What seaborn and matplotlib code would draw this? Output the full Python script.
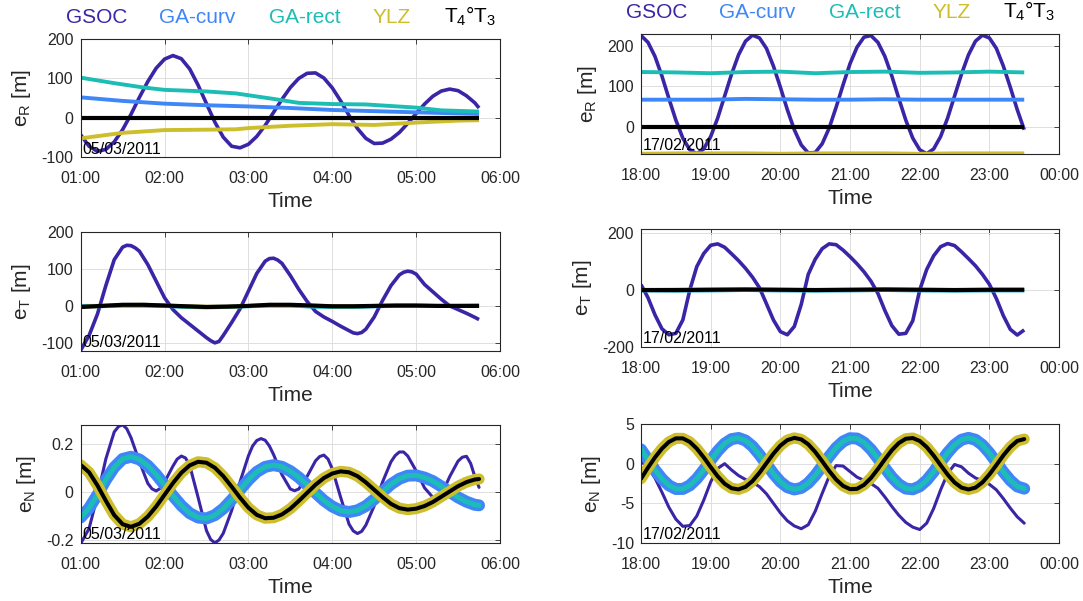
import pandas as pd
import matplotlib
matplotlib.use("Agg")
import matplotlib.pyplot as plt
import matplotlib.dates as mdates
from matplotlib.ticker import FuncFormatter
import seaborn as sns

# ------------------------------------------------------------------ series
LABELS = ["GSOC", "GA-curv", "GA-rect", "YLZ", "T$_4$°T$_3$"]
COLORS = ["#3b25a6", "#3f86f8", "#1cbdb5", "#cdbe2b", "#000000"]

DAY_LEFT = "2011-03-05"
DAY_RIGHT = "2011-02-17"
DATE_LEFT = "05/03/2011"
DATE_RIGHT = "17/02/2011"

# sample times, hours after midnight
HOURS_L = [1.0, 1.1, 1.2, 1.3, 1.4, 1.5, 1.6, 1.7, 1.8, 1.9,
           2.0, 2.1, 2.2, 2.3, 2.4, 2.5, 2.6, 2.7, 2.8, 2.9,
           3.0, 3.1, 3.2, 3.3, 3.4, 3.5, 3.6, 3.7, 3.8, 3.9,
           4.0, 4.1, 4.2, 4.3, 4.4, 4.5, 4.6, 4.7, 4.8, 4.9,
           5.0, 5.1, 5.2, 5.3, 5.4, 5.5, 5.6, 5.7, 5.75]
HOURS_R = [18.0, 18.1, 18.2, 18.3, 18.4, 18.5, 18.6, 18.7, 18.8, 18.9,
           19.0, 19.1, 19.2, 19.3, 19.4, 19.5, 19.6, 19.7, 19.8, 19.9,
           20.0, 20.1, 20.2, 20.3, 20.4, 20.5, 20.6, 20.7, 20.8, 20.9,
           21.0, 21.1, 21.2, 21.3, 21.4, 21.5, 21.6, 21.7, 21.8, 21.9,
           22.0, 22.1, 22.2, 22.3, 22.4, 22.5, 22.6, 22.7, 22.8, 22.9,
           23.0, 23.1, 23.2, 23.3, 23.4, 23.5]
QUARTER_L = [1.0, 1.25, 1.5, 1.75, 2.0, 2.25, 2.5, 2.75, 3.0, 3.25,
             3.5, 3.75, 4.0, 4.25, 4.5, 4.75, 5.0, 5.25, 5.5, 5.75]
HALF_R = [18.0, 18.5, 19.0, 19.5, 20.0, 20.5, 21.0, 21.5, 22.0, 22.5, 23.0, 23.5]
ENDS_L = [1.0, 5.75]

# ---- radial error e_R [m], 05/03/2011
GSOC_R_L = [-43, -72, -85, -80, -61, -30, 9, 52, 92, 126,
            149, 158, 150, 124, 83, 36, -11, -49, -72, -76,
            -67, -47, -19, 14, 47, 77, 100, 113, 114, 101,
            76, 43, 6, -27, -52, -65, -64, -54, -37, -14,
            11, 35, 55, 68, 73, 69, 56, 38, 25]
GAC_R_L_T = [1.0, 1.5, 2.0, 2.5, 3.0, 3.5, 4.0, 4.5, 5.0, 5.75]
GAC_R_L = [52, 43, 36, 32, 29, 25, 20, 17, 14, 10]
GAR_R_L_T = [1.0, 1.4, 1.75, 2.0, 2.5, 2.85, 3.3, 3.6, 4.0, 4.4, 4.7, 5.0, 5.3, 5.75]
GAR_R_L = [102, 88, 77, 71, 67, 62, 48, 38, 35, 34, 30, 26, 19, 16]
YLZ_R_L_T = [1.0, 1.5, 2.0, 2.5, 2.85, 3.0, 3.5, 4.0, 4.5, 5.0, 5.5, 5.75]
YLZ_R_L = [-52, -38, -31, -30, -29, -26, -20, -16, -18, -12, -7, -6]
T43_R_L = [0, 0]

# ---- along-track error e_T [m], 05/03/2011 (denser around the turning points)
GSOC_T_L_T = [1.0, 1.1, 1.2, 1.3, 1.4, 1.5, 1.55, 1.6, 1.65, 1.7, 1.8, 1.9,
              2.0, 2.1, 2.2, 2.3, 2.4, 2.5, 2.55, 2.6, 2.65, 2.7, 2.8, 2.9,
              3.0, 3.1, 3.2, 3.25, 3.3, 3.35, 3.4, 3.5, 3.6, 3.7, 3.8, 3.9,
              4.0, 4.1, 4.2, 4.25, 4.3, 4.35, 4.4, 4.5, 4.6, 4.7, 4.8, 4.85, 4.9,
              4.95, 5.0, 5.1, 5.2, 5.3, 5.4, 5.5, 5.6, 5.7, 5.75]
GSOC_T_L = [-120, -80, -22, 55, 125, 159, 164, 163, 157, 148, 112, 67,
            22, -10, -32, -50, -68, -86, -94, -100, -96, -80, -45, -8,
            40, 88, 121, 128, 129, 124, 115, 82, 45, 12, -15, -30,
            -42, -55, -67, -73, -75, -72, -63, -30, 15, 55, 84, 91, 94,
            92, 86, 58, 38, 18, 0, -10, -20, -31, -37]
GAC_T_L = [0, 0, 1, 1, 0, -2, -3, -2, 0, 1, 1, -1, -2, -2, -1, 0, 0, 0, 0, 0]
GAR_T_L = [-1, -1, 1, 1, 0, -3, -4, -3, -1, 1, 1, -2, -3, -3, -1, 0, 0, 0, 0, 1]
YLZ_T_L = [-3, 0, 2, 3, 1, -1, -2, -2, 0, 2, 2, 1, -1, -1, 0, 1, 1, 0, 0, 0]
T43_T_L = [-3, 0, 3, 3, 1, -1, -3, -2, 0, 3, 3, 1, -1, -1, 0, 1, 1, 0, 0, 0]

# ---- cross-track error e_N [m], 05/03/2011
GSOC_N_L_T = [1.0, 1.1, 1.2, 1.3, 1.4, 1.45, 1.5, 1.55, 1.6, 1.7, 1.8, 1.85, 1.9,
              1.95, 2.0, 2.1, 2.15, 2.2, 2.25, 2.3, 2.4, 2.5, 2.55, 2.6, 2.65, 2.7,
              2.8, 2.9, 3.0, 3.05, 3.1, 3.15, 3.2, 3.25, 3.3, 3.4, 3.5, 3.55, 3.6,
              3.7, 3.8, 3.85, 3.9, 3.95, 4.0, 4.1, 4.2, 4.25, 4.3, 4.35, 4.4, 4.5,
              4.6, 4.7, 4.75, 4.8, 4.85, 4.9, 5.0, 5.1, 5.2, 5.25, 5.3, 5.4, 5.5,
              5.55, 5.6, 5.65, 5.7, 5.75]
GSOC_N_L = [-0.215, -0.152, -0.016, 0.139, 0.252, 0.274, 0.282, 0.265, 0.228, 0.128,
            0.037, 0.014, 0.005, 0.016, 0.042, 0.109, 0.138, 0.151, 0.143, 0.112,
            -0.022, -0.161, -0.198, -0.212, -0.200, -0.172, -0.077, 0.043, 0.152,
            0.193, 0.216, 0.224, 0.217, 0.193, 0.157, 0.073, 0.013, 0.006, 0.013,
            0.066, 0.131, 0.149, 0.155, 0.138, 0.097, -0.022, -0.134, -0.162,
            -0.173, -0.164, -0.138, -0.057, 0.043, 0.127, 0.153, 0.168, 0.168,
            0.151, 0.089, 0.018, -0.022, -0.025, -0.012, 0.065, 0.130, 0.146,
            0.150, 0.120, 0.065, 0.020]
GAC_N_L = [-0.106, -0.067, -0.011, 0.051, 0.104, 0.139, 0.148, 0.137, 0.111, 0.074,
           0.030, -0.015, -0.056, -0.088, -0.106, -0.110, -0.096, -0.069, -0.032, 0.010,
           0.051, 0.085, 0.106, 0.113, 0.106, 0.088, 0.062, 0.030, -0.003, -0.035,
           -0.060, -0.077, -0.083, -0.076, -0.058, -0.030, 0.002, 0.033, 0.056, 0.069,
           0.070, 0.061, 0.046, 0.024, 0.001, -0.022, -0.040, -0.053, -0.055]
GAR_N_L = GAC_N_L  # both GA variants coincide in the normal direction
YLZ_N_L = [0.114, 0.083, 0.028, -0.036, -0.096, -0.134, -0.145, -0.132, -0.102, -0.060,
           -0.011, 0.038, 0.081, 0.112, 0.127, 0.123, 0.102, 0.067, 0.023, -0.023,
           -0.065, -0.095, -0.109, -0.107, -0.093, -0.069, -0.037, -0.003, 0.031, 0.059,
           0.078, 0.087, 0.083, 0.067, 0.041, 0.010, -0.021, -0.049, -0.067, -0.073,
           -0.069, -0.058, -0.041, -0.019, 0.003, 0.025, 0.042, 0.053, 0.055]
T43_N_L = YLZ_N_L

# ---- radial error e_R [m], 17/02/2011
GSOC_R_R = [227, 210, 175, 126, 70, 16, -29, -58, -68, -56,
            -25, 21, 76, 131, 179, 213, 228, 221, 195, 151,
            98, 42, -8, -46, -66, -65, -43, -4, 48, 104,
            157, 198, 223, 227, 210, 175, 126, 70, 16, -29,
            -58, -68, -56, -25, 21, 76, 131, 179, 213, 228,
            221, 195, 151, 98, 42, -8]
GAC_R_R = [67, 67, 67, 69, 68, 67, 67, 68, 67, 67, 67, 67]
GAR_R_R = [136, 135, 133, 136, 137, 133, 136, 137, 134, 135, 137, 135]
YLZ_R_R = [-68, -67, -67, -67, -68, -67, -67, -67, -68, -67, -67, -67]
T43_R_R = [0, 0, 0, 0, 0, 0, 0, 0, 0, 0, 0, 0]

# ---- along-track error e_T [m], 17/02/2011
GSOC_T_R = [19, -27, -87, -136, -157, -152, -105, 0, 82, 128,
            157, 162, 150, 127, 103, 76, 45, 8, -48, -105,
            -146, -157, -128, -50, 55, 108, 145, 162, 159, 140,
            117, 92, 64, 31, -12, -72, -125, -155, -152, -108,
            0, 72, 120, 152, 163, 156, 134, 110, 85, 55,
            20, -30, -90, -138, -158, -140]
GAC_T_R = [-1, -1, -1, 0, -1, -1, -1, 0, -1, -1, -1, -1]
GAR_T_R = [-1, -2, -1, 0, -1, -2, -1, 0, -1, -2, -1, -1]
YLZ_T_R = [0, 1, 2, 2, 1, 0, 1, 2, 1, 0, 1, 1]
T43_T_R = [0, 0, 1, 2, 1, 0, 1, 2, 1, 0, 1, 1]

# ---- cross-track error e_N [m], 17/02/2011
GSOC_N_R = [0.3, -0.5, -1.8, -3.6, -5.5, -7.0, -7.9, -7.8, -6.6, -4.6,
            -2.3, -0.6, 0.0, -0.8, -1.5, -2.0, -2.35, -2.9, -3.8, -5.0,
            -6.2, -7.2, -7.85, -8.2, -7.7, -6.0, -3.75, -1.6, -0.24, -0.3,
            -1.0, -1.7, -2.1, -2.5, -3.1, -4.2, -5.4, -6.5, -7.4, -8.0,
            -8.3, -7.5, -5.65, -3.3, -1.25, -0.1, -0.4, -1.2, -1.8, -2.15,
            -2.6, -3.3, -4.4, -5.6, -6.7, -7.5]
GAC_N_R = [1.8, 0.5, -0.79, -1.90, -2.74, -3.19, -3.19, -2.74, -1.90, -0.79,
           0.43, 1.59, 2.53, 3.10, 3.24, 2.92, 2.19, 1.14, -0.06, -1.26,
           -2.28, -2.97, -3.25, -3.06, -2.44, -1.48, -0.31, 0.91, 2.00, 2.80,
           3.21, 3.17, 2.67, 1.80, 0.67, -0.55, -1.70, -2.60, -3.14, -3.23,
           -2.86, -2.09, -1.02, 0.19, 1.37, 2.37, 3.02, 3.25, 3.02, 2.36,
           1.36, 0.18, -1.04, -2.10, -2.87, -3.15]
GAR_N_R = GAC_N_R
YLZ_N_R = [-1.9, -0.5, 0.79, 1.90, 2.74, 3.19, 3.19, 2.74, 1.90, 0.79,
           -0.43, -1.59, -2.53, -3.10, -3.24, -2.92, -2.19, -1.14, 0.06, 1.26,
           2.28, 2.97, 3.25, 3.06, 2.44, 1.48, 0.31, -0.91, -2.00, -2.80,
           -3.21, -3.17, -2.67, -1.80, -0.67, 0.55, 1.70, 2.60, 3.14, 3.23,
           2.86, 2.09, 1.02, -0.19, -1.37, -2.37, -3.02, -3.25, -3.02, -2.36,
           -1.36, -0.18, 1.04, 2.10, 2.87, 3.1]
T43_N_R = YLZ_N_R

# ------------------------------------------------------------------ panels
LW_THIN = [2.6, 2.8, 2.8, 2.8, 3.0]
LW_NORMAL = [2.2, 8.6, 3.6, 8.0, 2.9]

PANELS = [
    # row, col, day, ylabel, ylim, yticks, series (hours, values), widths, cap
    (0, 0, DAY_LEFT, "e$_R$ [m]", (-100, 200), [-100, 0, 100, 200],
     [(HOURS_L, GSOC_R_L), (GAC_R_L_T, GAC_R_L), (GAR_R_L_T, GAR_R_L),
      (YLZ_R_L_T, YLZ_R_L), (ENDS_L, T43_R_L)], LW_THIN, "butt"),
    (1, 0, DAY_LEFT, "e$_T$ [m]", (-122, 200), [-100, 0, 100, 200],
     [(GSOC_T_L_T, GSOC_T_L), (QUARTER_L, GAC_T_L), (QUARTER_L, GAR_T_L),
      (QUARTER_L, YLZ_T_L), (QUARTER_L, T43_T_L)], LW_THIN, "butt"),
    (2, 0, DAY_LEFT, "e$_N$ [m]", (-0.2126, 0.2807), [-0.2, 0, 0.2],
     [(GSOC_N_L_T, GSOC_N_L), (HOURS_L, GAC_N_L), (HOURS_L, GAR_N_L),
      (HOURS_L, YLZ_N_L), (HOURS_L, T43_N_L)], LW_NORMAL, "round"),
    (0, 1, DAY_RIGHT, "e$_R$ [m]", (-68.5, 231), [0, 100, 200],
     [(HOURS_R, GSOC_R_R), (HALF_R, GAC_R_R), (HALF_R, GAR_R_R),
      (HALF_R, YLZ_R_R), (HALF_R, T43_R_R)], LW_THIN, "butt"),
    (1, 1, DAY_RIGHT, "e$_T$ [m]", (-200, 214), [-200, 0, 200],
     [(HOURS_R, GSOC_T_R), (HALF_R, GAC_T_R), (HALF_R, GAR_T_R),
      (HALF_R, YLZ_T_R), (HALF_R, T43_T_R)], LW_THIN, "butt"),
    (2, 1, DAY_RIGHT, "e$_N$ [m]", (-10, 5), [-10, -5, 0, 5],
     [(HOURS_R, GSOC_N_R), (HOURS_R, GAC_N_R), (HOURS_R, GAR_N_R),
      (HOURS_R, YLZ_N_R), (HOURS_R, T43_N_R)], LW_NORMAL, "round"),
]

AX_RECT = {
    (0, 0): [0.0745, 0.7383, 0.3872, 0.1968],
    (1, 0): [0.0745, 0.4160, 0.3872, 0.1980],
    (2, 0): [0.0745, 0.0965, 0.3872, 0.1963],
    (0, 1): [0.5919, 0.7438, 0.3860, 0.1997],
    (1, 1): [0.5919, 0.4226, 0.3860, 0.1963],
    (2, 1): [0.5919, 0.0965, 0.3860, 0.1980],
}
XSPAN = {DAY_LEFT: (1, 6), DAY_RIGHT: (18, 24)}
DATE_TEXT = {DAY_LEFT: DATE_LEFT, DAY_RIGHT: DATE_RIGHT}
LEGEND_X = [0.037, 0.277, 0.535, 0.742, 0.928]

# ------------------------------------------------------------------ style
sns.set_theme(style="white")
plt.rcParams.update({
    "font.family": ["Liberation Sans", "DejaVu Sans"],
    "mathtext.fontset": "custom",
    "mathtext.rm": "Liberation Sans",
    "mathtext.it": "Liberation Sans:italic",
    "mathtext.default": "regular",
    "axes.unicode_minus": False,
})
INK = "#262626"

fig = plt.figure(figsize=(10.83, 6.01), dpi=100)


def stamp(day, hours):
    return pd.Timestamp(day) + pd.to_timedelta(hours, unit="h")


for row, col, day, ylabel, ylim, yticks, series, widths, cap in PANELS:
    ax = fig.add_axes(AX_RECT[(row, col)])
    for k, (hrs, vals) in enumerate(series):
        df = pd.DataFrame({"time": stamp(day, hrs), "value": vals})
        sns.lineplot(data=df, x="time", y="value", ax=ax, color=COLORS[k],
                     lw=widths[k], estimator=None, sort=False,
                     solid_capstyle=cap, solid_joinstyle="round", legend=False)

    x0, x1 = XSPAN[day]
    ax.set_xlim(stamp(day, x0), stamp(day, x1))
    ax.xaxis.set_major_locator(mdates.HourLocator(interval=1))
    ax.xaxis.set_major_formatter(mdates.DateFormatter("%H:%M"))
    ax.set_ylim(*ylim)
    ax.set_yticks(yticks)
    ax.yaxis.set_major_formatter(FuncFormatter(lambda v, p: f"{v:g}"))

    ax.grid(True, color="#dedede", lw=0.7)
    ax.set_axisbelow(True)
    for sp in ax.spines.values():
        sp.set_color(INK)
        sp.set_linewidth(0.8)
    ax.tick_params(direction="in", length=3.5, width=0.6, top=True, right=True,
                   colors=INK, labelsize=11.5)
    ax.tick_params(axis="x", pad=10)
    ax.tick_params(axis="y", pad=5)

    ax.set_xlabel("Time", fontsize=15, color=INK, labelpad=4.5)
    ax.set_ylabel(ylabel, fontsize=15, color=INK, labelpad=6)

    ax.text(0.003, 0.03, DATE_TEXT[day], transform=ax.transAxes, ha="left",
            va="baseline", fontsize=11.5, color="black", zorder=5)

    if row == 0:
        h_px = AX_RECT[(row, col)][3] * 601
        for k, lab in enumerate(LABELS):
            ax.text(LEGEND_X[k], 1 + 16 / h_px, lab, transform=ax.transAxes,
                    ha="center", va="baseline", fontsize=15, color=COLORS[k],
                    clip_on=False)

fig.savefig("out.png", dpi=100)
